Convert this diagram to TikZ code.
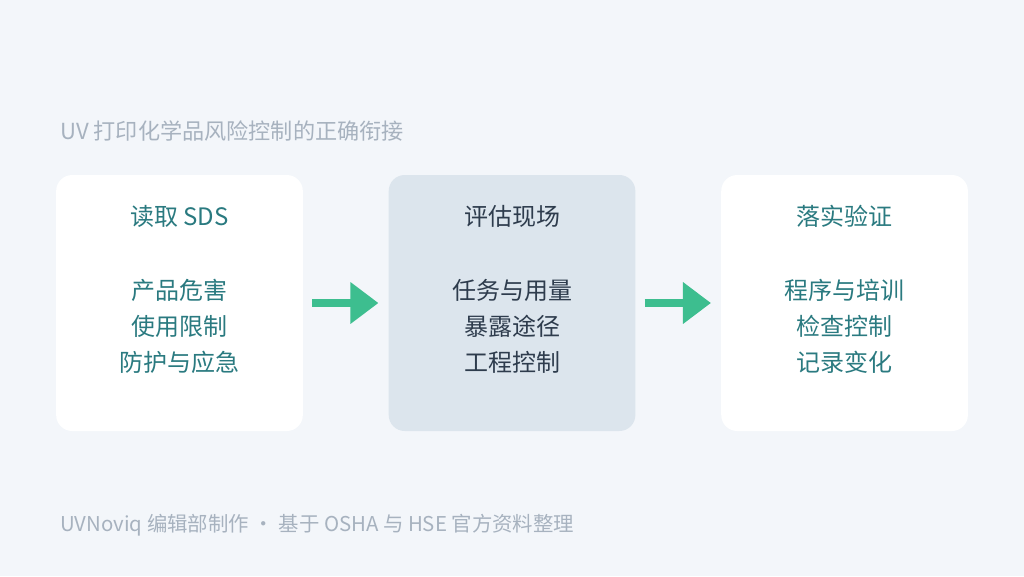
\documentclass[tikz,border=0pt]{standalone}
\usepackage{fontspec}
\usepackage{xcolor}
\usetikzlibrary{positioning,arrows.meta}
\newfontfamily\cjk{Noto Sans CJK SC}
\definecolor{bgcol}{HTML}{F3F6FA}
\definecolor{focusfill}{HTML}{DCE5ED}
\definecolor{tealtext}{HTML}{2A7A80}
\definecolor{navytext}{HTML}{2E3C4D}
\definecolor{greytext}{HTML}{A7B2BF}
\definecolor{flowgreen}{HTML}{3DBE8F}

\begin{document}
\begin{tikzpicture}[x=0.75pt, y=-0.75pt, node distance=249.4pt]
  \tikzstyle{card} = [rectangle, fill=white, rounded corners=12pt, minimum width=185pt, minimum height=192pt, inner sep=0pt]
  \tikzstyle{focus} = [card, fill=focusfill]
  \tikzstyle{steptext} = [font=\cjk\fontsize{18pt}{27pt}\selectfont, align=center, text=tealtext]
  \tikzstyle{flow} = [draw=flowgreen, line width=6pt, -{Triangle[length=21pt, width=30pt]}, shorten <=6.75pt, shorten >=7.5pt]
  \tikzstyle{note} = [font=\cjk\fontsize{15.3pt}{18pt}\selectfont, text=greytext, anchor=west, inner sep=0pt]

  \useasboundingbox[fill=bgcol] (0,0) rectangle (1024,576);

  \node [note, font=\cjk\fontsize{16.6pt}{20pt}\selectfont] (title) at (60,131) {UV 打印化学品风险控制的正确衔接};

  \node [card] (read) at (179.5,303) {};
  \node [focus, right of=read] (assess) {};
  \node [card, right of=assess] (verify) {};

  \node [steptext] (readtxt) at ([yshift=10pt]read.center) {读取 SDS\\[28.5pt]产品危害\\使用限制\\防护与应急};
  \node [steptext, text=navytext] (assesstxt) at ([yshift=10pt]assess.center) {评估现场\\[28.5pt]任务与用量\\暴露途径\\工程控制};
  \node [steptext] (verifytxt) at ([yshift=10pt]verify.center) {落实验证\\[28.5pt]程序与培训\\检查控制\\记录变化};

  \path [flow] (read) -- (assess);
  \path [flow] (assess) -- (verify);

  \node [note] (footer) at (60,525) {UVNoviq 编辑部制作 · 基于 OSHA 与 HSE 官方资料整理};
\end{tikzpicture}
\end{document}
